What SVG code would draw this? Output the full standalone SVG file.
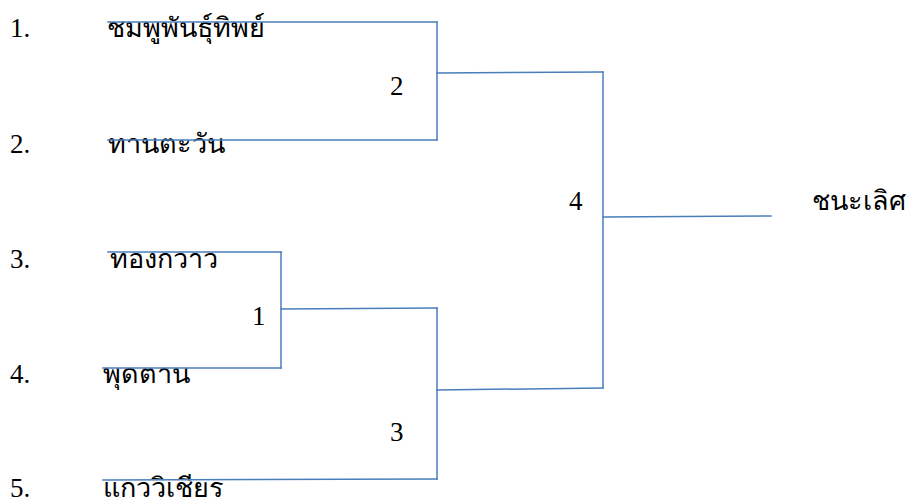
<svg xmlns="http://www.w3.org/2000/svg" width="915" height="504" viewBox="0 0 915 504">
<style>
text{font-family:"Liberation Serif","DejaVu Serif",serif;font-size:27px;fill:#000}
.c line{stroke:#4A7EBB;stroke-width:1.5;stroke-linecap:square}
</style>
<rect width="915" height="504" fill="#fff"/>
<g id="seed1"><text x="10" y="37">1.</text><text x="107" y="37">ชมพูพันธุ์ทิพย์</text></g>
<g id="seed2"><text x="10" y="153">2.</text><text x="108" y="153">ทานตะวัน</text></g>
<g id="seed3"><text x="10" y="268">3.</text><text x="110" y="268">ทองกวาว</text></g>
<g id="seed4"><text x="10" y="383">4.</text><text x="103" y="383">พุดตาน</text></g>
<g id="seed5"><text x="10" y="497">5.</text><text x="103" y="497">แกววิเชียร</text></g>
<g id="match1"><text x="252" y="325">1</text></g>
<g id="match2"><text x="390" y="95">2</text></g>
<g id="match3"><text x="390" y="441">3</text></g>
<g id="match4"><text x="569" y="210">4</text></g>
<g id="winner"><text x="812" y="210">ชนะเลิศ</text></g>
<g class="c" id="connectors">
<line x1="108" y1="22" x2="437" y2="22"/>
<line x1="108" y1="140" x2="437" y2="140"/>
<line x1="437" y1="22" x2="437" y2="140"/>
<line x1="437" y1="73" x2="603" y2="72"/>
<line x1="108" y1="252" x2="281" y2="252"/>
<line x1="103" y1="368" x2="281" y2="368"/>
<line x1="281" y1="252" x2="281" y2="368"/>
<line x1="281" y1="309" x2="437" y2="308"/>
<line x1="437" y1="308" x2="437" y2="479"/>
<line x1="103" y1="480" x2="437" y2="479"/>
<line x1="437" y1="390" x2="603" y2="388"/>
<line x1="603" y1="72" x2="603" y2="388"/>
<line x1="603" y1="217" x2="771" y2="216"/>
</g>
</svg>
